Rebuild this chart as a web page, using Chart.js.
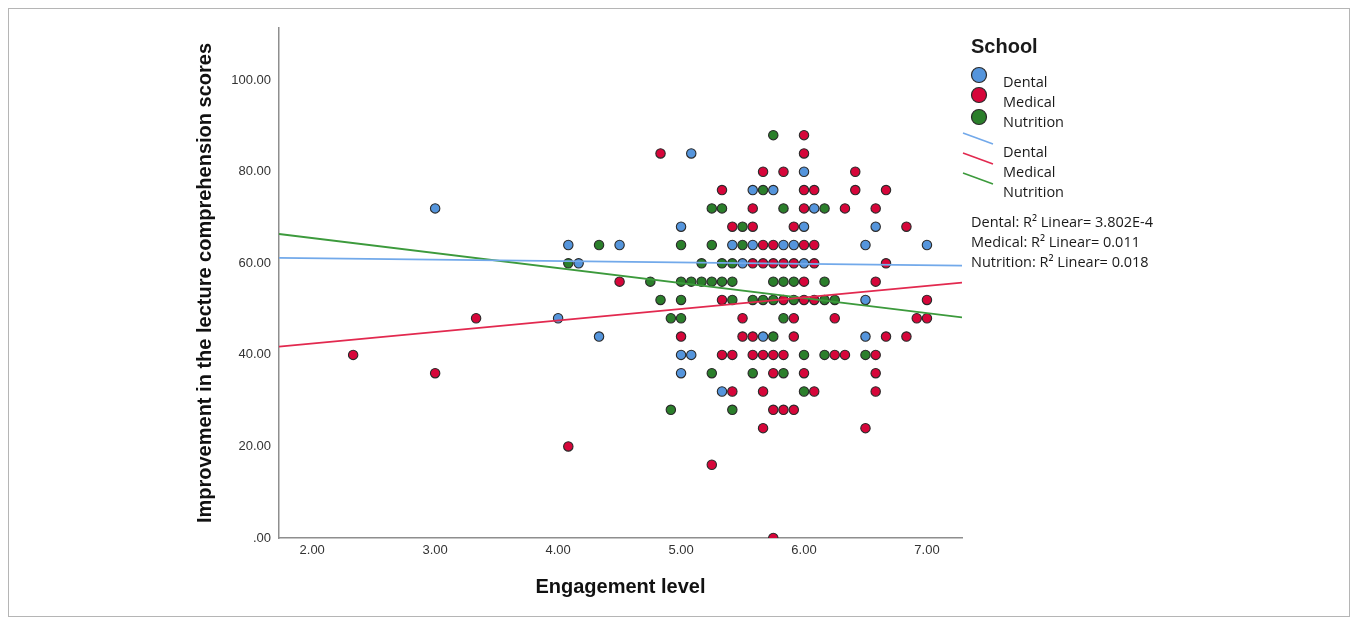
<!DOCTYPE html>
<html>
<head>
<meta charset="utf-8">
<script src="https://cdn.jsdelivr.net/npm/chart.js@4/dist/chart.umd.min.js"></script>
<style>
    html, body { margin: 0; padding: 0; background: #fff; }
    #wrap { position: relative; width: 1357px; height: 624px; }
    #frame {
        position: absolute; left: 8px; top: 8px;
        width: 1340px; height: 607px;
        border: 1px solid #b5b5b5;
        pointer-events: none;
    }
    canvas { position: absolute; left: 0; top: 0; }
</style>
</head>
<body>
<div id="wrap">
    <canvas id="chart" width="1357" height="624"></canvas>
    <div id="frame"></div>
</div>
<script>
// --------------------------------
// || Data
// --------------------------------

const schools = ['Dental', 'Medical', 'Nutrition'];

// [engagement level, improvement score]
const dentalPoints = [
    [3.0, 72], [4.0, 48], [4.083, 64], [4.167, 60], [4.333, 44], [4.5, 64],
    [5.083, 84], [5.583, 76], [5.75, 76], [5.0, 68], [5.417, 64], [5.583, 64],
    [5.833, 64], [5.917, 64], [5.5, 60], [6.0, 80], [6.083, 72], [6.0, 68],
    [6.583, 68], [6.5, 64], [7.0, 64], [6.0, 60], [5.667, 44], [5.0, 40],
    [5.083, 40], [5.0, 36], [5.333, 32], [6.5, 52], [6.5, 44]
];

const medicalPoints = [
    [2.333, 40], [3.0, 36], [3.333, 48], [4.083, 20], [4.833, 84], [4.5, 56],
    [5.667, 80], [5.833, 80], [6.0, 88], [6.0, 84], [6.417, 80], [5.333, 76],
    [6.0, 76], [6.083, 76], [6.417, 76], [6.667, 76], [5.583, 72], [6.0, 72],
    [6.333, 72], [6.583, 72], [5.417, 68], [5.583, 68], [5.917, 68], [6.833, 68],
    [5.667, 64], [5.75, 64], [6.0, 64], [6.083, 64], [5.583, 60], [5.667, 60],
    [5.75, 60], [5.833, 60], [5.917, 60], [6.083, 60], [6.667, 60], [6.0, 56],
    [6.583, 56], [5.333, 52], [5.833, 52], [6.0, 52], [6.083, 52], [7.0, 52],
    [5.5, 48], [5.917, 48], [6.25, 48], [6.917, 48], [7.0, 48], [5.0, 44],
    [5.5, 44], [5.583, 44], [5.917, 44], [6.667, 44], [6.833, 44], [5.333, 40],
    [5.417, 40], [5.583, 40], [5.667, 40], [5.75, 40], [5.833, 40], [6.25, 40],
    [6.333, 40], [6.583, 40], [5.75, 36], [6.0, 36], [6.583, 36], [5.417, 32],
    [5.667, 32], [6.083, 32], [6.583, 32], [5.75, 28], [5.833, 28], [5.917, 28],
    [5.667, 24], [6.5, 24], [5.25, 16], [5.75, 0]
];

const nutritionPoints = [
    [4.083, 60], [4.333, 64], [4.75, 56], [5.75, 88], [5.667, 76], [5.25, 72],
    [5.333, 72], [5.833, 72], [6.167, 72], [5.5, 68], [5.0, 64], [5.25, 64],
    [5.5, 64], [5.167, 60], [5.333, 60], [5.417, 60], [5.0, 56], [5.083, 56],
    [5.167, 56], [5.25, 56], [5.333, 56], [5.417, 56], [5.75, 56], [5.833, 56],
    [5.917, 56], [6.167, 56], [4.833, 52], [5.0, 52], [5.417, 52], [5.583, 52],
    [5.667, 52], [5.75, 52], [5.917, 52], [6.167, 52], [6.25, 52], [4.917, 48],
    [5.0, 48], [5.833, 48], [5.75, 44], [5.25, 36], [5.583, 36], [5.833, 36],
    [5.417, 28], [4.917, 28], [6.0, 40], [6.167, 40], [6.5, 40], [6.0, 32]
];

// fit lines, read at the left and right edge of the plot
const dentalFit = [[1.73, 61.2], [7.285, 59.5]];
const medicalFit = [[1.73, 41.8], [7.285, 55.8]];
const nutritionFit = [[1.73, 66.4], [7.285, 48.2]];

const rSquared = ['3.802E-4', '0.011', '0.018'];

const xTicks = [2, 3, 4, 5, 6, 7];
const yTicks = [0, 20, 40, 60, 80, 100];

// --------------------------------
// || Styles
// --------------------------------

const fillColors = ['#5595dc', '#d6063a', '#2b7f2b'];
const lineColors = ['#72a9ea', '#e2294f', '#3c9a3c'];
const axisColor = '#8e8e8e';
const arial = '"Liberation Sans", Arial, sans-serif';
const legendFont = '"Open Sans", "Noto Sans", sans-serif';

function toXY(pairs) {
    return pairs.map(p => ({ x: p[0], y: p[1] }));
}

function pointSet(label, pairs, i) {
    return {
        type: 'scatter',
        label: label,
        data: toXY(pairs),
        backgroundColor: fillColors[i],
        borderColor: '#2a2a2a',
        borderWidth: 1.1,
        pointRadius: 4.7,
        order: 2
    };
}

function fitSet(label, pairs, i) {
    return {
        type: 'line',
        label: label + ' fit',
        data: toXY(pairs),
        borderColor: lineColors[i],
        borderWidth: 1.8,
        pointRadius: 0,
        fill: false,
        order: 1
    };
}

// --------------------------------
// || Legend
// --------------------------------

const legendPlugin = {
    id: 'spssLegend',
    afterDraw(chart) {
        const ctx = chart.ctx;
        ctx.save();
        ctx.textBaseline = 'middle';
        ctx.textAlign = 'left';

        ctx.fillStyle = '#1a1a1a';
        ctx.font = 'bold 20px ' + arial;
        ctx.fillText('School', 971, 47);

        ctx.font = '14.5px ' + legendFont;
        const dotY = [75, 95, 117];
        const labelY = [83, 103, 123];
        for (let i = 0; i < schools.length; i++) {
            ctx.beginPath();
            ctx.arc(979, dotY[i], 7.5, 0, Math.PI * 2);
            ctx.fillStyle = fillColors[i];
            ctx.fill();
            ctx.lineWidth = 1.2;
            ctx.strokeStyle = '#2a2a2a';
            ctx.stroke();
            ctx.fillStyle = '#1a1a1a';
            ctx.fillText(schools[i], 1003, labelY[i]);
        }

        const lineY = [133, 153, 173];
        for (let i = 0; i < schools.length; i++) {
            ctx.beginPath();
            ctx.moveTo(963, lineY[i]);
            ctx.lineTo(993, lineY[i] + 11);
            ctx.strokeStyle = lineColors[i];
            ctx.lineWidth = 1.6;
            ctx.stroke();
            ctx.fillStyle = '#1a1a1a';
            ctx.fillText(schools[i], 1003, lineY[i] + 20);
        }

        for (let i = 0; i < schools.length; i++) {
            ctx.fillText(schools[i] + ': R\u00b2 Linear= ' + rSquared[i], 971, 223 + i * 20);
        }
        ctx.restore();
    }
};

// --------------------------------
// || Chart
// --------------------------------

const chart = new Chart(document.getElementById('chart'), {
    data: {
        datasets: [
            pointSet(schools[0], dentalPoints, 0),
            pointSet(schools[1], medicalPoints, 1),
            pointSet(schools[2], nutritionPoints, 2),
            fitSet(schools[0], dentalFit, 0),
            fitSet(schools[1], medicalFit, 1),
            fitSet(schools[2], nutritionFit, 2)
        ]
    },
    options: {
        responsive: false,
        animation: false,
        devicePixelRatio: 1,
        layout: {
            padding: { left: 193, right: 395, top: 28, bottom: 25 }
        },
        plugins: {
            legend: { display: false },
            tooltip: { enabled: false }
        },
        scales: {
            x: {
                type: 'linear',
                min: 1.73,
                max: 7.285,
                afterFit: scale => { scale.height = 61; },
                afterBuildTicks: scale => { scale.ticks = xTicks.map(v => ({ value: v })); },
                grid: { display: false, drawTicks: false },
                border: { display: true, color: axisColor, width: 1.5 },
                ticks: {
                    padding: 5,
                    color: '#333',
                    font: { family: arial, size: 13 },
                    callback: v => v.toFixed(2)
                },
                title: {
                    display: true,
                    text: 'Engagement level',
                    color: '#111',
                    padding: 0,
                    font: { family: arial, size: 20, weight: 'bold', lineHeight: 1.2 }
                }
            },
            y: {
                type: 'linear',
                min: 0,
                max: 111.4,
                afterFit: scale => { scale.width = 86; },
                afterBuildTicks: scale => { scale.ticks = yTicks.map(v => ({ value: v })); },
                grid: { display: false, drawTicks: false },
                border: { display: true, color: axisColor, width: 1.5 },
                ticks: {
                    padding: 8,
                    color: '#333',
                    font: { family: arial, size: 13 },
                    callback: v => (v === 0 ? '.00' : v.toFixed(2))
                },
                title: {
                    display: true,
                    text: 'Improvement in the lecture comprehension scores',
                    color: '#111',
                    padding: 0,
                    font: { family: arial, size: 20, weight: 'bold', lineHeight: 1.2 }
                }
            }
        }
    },
    plugins: [legendPlugin]
});
</script>
</body>
</html>
